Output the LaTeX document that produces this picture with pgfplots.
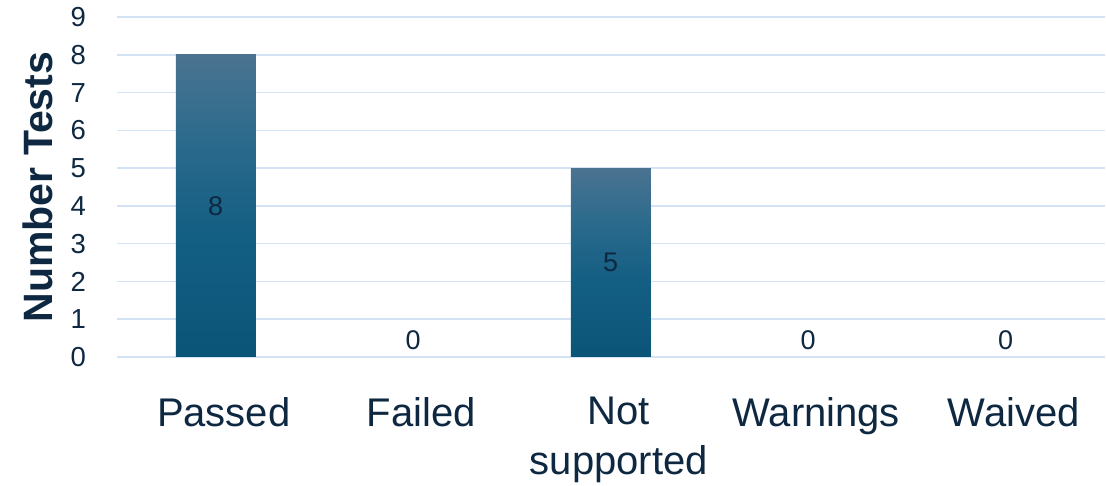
\documentclass[border=0pt]{standalone}
\usepackage{pgfplots}
\pgfplotsset{compat=1.18}
\usepackage{fontspec}
\setmainfont{Liberation Sans}

\definecolor{txt}{HTML}{0E2841}
\definecolor{gridblue}{HTML}{D3E2F4}
\definecolor{bartop}{HTML}{4B7391}
\definecolor{barmid}{HTML}{2A6A8C}
\definecolor{barlow}{HTML}{135E83}
\definecolor{barbot}{HTML}{0A5577}

% vertical fade of the bars: dark teal at the base, greyish blue at the top
\pgfdeclareverticalshading{barshade}{100bp}{color(0bp)=(barbot); color(25bp)=(barbot); color(45bp)=(barlow); color(60bp)=(barmid); color(75bp)=(bartop); color(100bp)=(bartop)}

\pgfplotsset{
  testbar/.style={ybar, bar width=80pt, draw=none, shading=barshade, forget plot},
}

\begin{document}
\begin{tikzpicture}
\useasboundingbox (0,0) rectangle (1106pt,486pt);
\begin{axis}[
  at={(117pt,129pt)}, anchor=south west,
  scale only axis, width=987.5pt, height=340pt,
  xmin=-0.5, xmax=4.5, ymin=0, ymax=9,
  xtick={0,...,4},
  xticklabels={Passed,Failed,Not\\supported,Warnings,Waived},
  ytick={0,...,9},
  /pgf/number format/assume math mode=true,
  ymajorgrids,
  major grid style={draw=gridblue, line width=1.5pt},
  axis line style={draw=none}, tick style={draw=none},
  xticklabel style={font=\fontsize{40}{50}\selectfont, text=txt, anchor=north, align=center, inner sep=0pt, yshift=-40pt, xshift=8pt},
  yticklabel style={font=\fontsize{27.5}{30}\selectfont, text=txt, anchor=east, inner sep=0pt, xshift=-31pt},
  ylabel={Number Tests},
  every axis y label/.style={at={(axis description cs:-0.08,0.5)}, rotate=90, anchor=center,
    font=\fontsize{41}{45}\selectfont\bfseries, text=txt},
]
% one bar per category, so each bar gets its own full shading
\addplot[testbar] coordinates {(0,8)};
\addplot[testbar] coordinates {(1,0)};
\addplot[testbar] coordinates {(2,5)};
\addplot[testbar] coordinates {(3,0)};
\addplot[testbar] coordinates {(4,0)};
% value labels: centred in the bar, just above the baseline for zero
\addplot[only marks, mark=none,
  visualization depends on={rawy \as \rawy},
  nodes near coords, point meta=y,
  nodes near coords style={font=\fontsize{27}{30}\selectfont, text=txt, anchor=center, inner sep=0pt,
    yshift={(\rawy==0)*17 - \rawy*18.889}}
] coordinates {(0,8) (1,0) (2,5) (3,0) (4,0)};
\end{axis}
\end{tikzpicture}
\end{document}
